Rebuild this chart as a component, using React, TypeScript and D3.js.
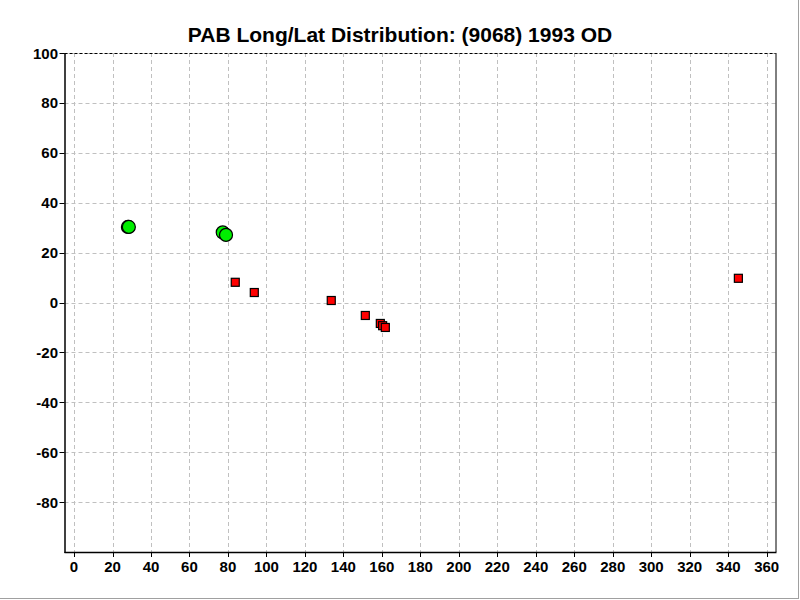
import React from "react";
import * as d3 from "d3";

const title = "PAB Long/Lat Distribution: (9068) 1993 OD";
const xTicks = d3.range(0, 361, 20);
const yTicks = d3.range(-80, 101, 20);

// green circles (longitude, latitude)
const circleLon = [28.0, 28.5, 77.3, 79.0];
const circleLat = [30.3, 30.3, 28.1, 27.1];

// red squares (longitude, latitude)
const squareLon = [83.8, 93.7, 133.7, 151.4, 159.2, 160.4, 161.8, 345.3];
const squareLat = [8.1, 4.0, 0.8, -5.2, -8.4, -9.3, -10.0, 9.7];

const W = 800;
const H = 600;
const left = 64.5;
const right = 775.5;
const top = 53;
const bottom = 552;

export default function App() {
  const x = d3.scaleLinear().domain([-4.95, 364.6]).range([left, right]);
  const y = d3.scaleLinear().domain([-100, 100]).range([bottom, top]);
  const font = "'Liberation Sans', Arial, sans-serif";
  return (
    <svg
      width={W}
      height={H}
      style={{ position: "absolute", left: 0, top: 0, background: "#fff" }}
      fontFamily={font}
    >
      <rect x={0} y={0} width={W} height={H} fill="#fff" />
      <line x1={798.5} y1={0} x2={798.5} y2={599} stroke="#a0a0a0" />
      <line x1={0} y1={598.5} x2={799} y2={598.5} stroke="#a0a0a0" />
      <text x={400} y={42} textAnchor="middle" fontSize={21} fontWeight="bold" fill="#000">
        {title}
      </text>
      {/* grid */}
      {xTicks.map((t) => (
        <line
          key={"gx" + t}
          x1={Math.round(x(t)) + 0.5}
          x2={Math.round(x(t)) + 0.5}
          y1={top}
          y2={bottom}
          stroke="#c0c0c0"
          strokeDasharray="4,3"
        />
      ))}
      {yTicks.map((t) => (
        <line
          key={"gy" + t}
          x1={left}
          x2={right}
          y1={Math.round(y(t)) + 0.5}
          y2={Math.round(y(t)) + 0.5}
          stroke="#c0c0c0"
          strokeDasharray="4,3"
        />
      ))}
      {/* frame */}
      <line x1={left} x2={right} y1={top + 0.5} y2={top + 0.5} stroke="#000" strokeDasharray="3,2" />
      <line x1={right + 0.5} x2={right + 0.5} y1={top} y2={bottom} stroke="#000" />
      <line x1={left + 0.5} x2={left + 0.5} y1={top} y2={bottom + 1} stroke="#000" strokeWidth={1.5} />
      <line x1={left} x2={right + 1} y1={bottom + 0.5} y2={bottom + 0.5} stroke="#000" strokeWidth={1.5} />
      {/* x ticks */}
      {xTicks.map((t) => (
        <g key={"xt" + t}>
          <line
            x1={Math.round(x(t)) + 0.5}
            x2={Math.round(x(t)) + 0.5}
            y1={bottom}
            y2={bottom + 5}
            stroke="#000"
          />
          <text x={x(t)} y={572} textAnchor="middle" fontSize={15} fontWeight="bold" fill="#000">
            {t}
          </text>
        </g>
      ))}
      {/* y ticks */}
      {yTicks.map((t) => (
        <g key={"yt" + t}>
          <line
            x1={left - 5}
            x2={left}
            y1={Math.round(y(t)) + 0.5}
            y2={Math.round(y(t)) + 0.5}
            stroke="#000"
          />
          <text x={58} y={y(t) + 5.5} textAnchor="end" fontSize={15} fontWeight="bold" fill="#000">
            {t}
          </text>
        </g>
      ))}
      {/* squares */}
      {squareLon.map((lon, i) => (
        <rect
          key={"s" + i}
          x={x(lon) - 4}
          y={y(squareLat[i]) - 4}
          width={8}
          height={8}
          fill="#ff0000"
          stroke="#000"
          strokeWidth={1.2}
        />
      ))}
      {/* circles */}
      {circleLon.map((lon, i) => (
        <circle
          key={"c" + i}
          cx={x(lon)}
          cy={y(circleLat[i])}
          r={6.5}
          fill="#00ee00"
          stroke="#000"
          strokeWidth={1.2}
        />
      ))}
    </svg>
  );
}
